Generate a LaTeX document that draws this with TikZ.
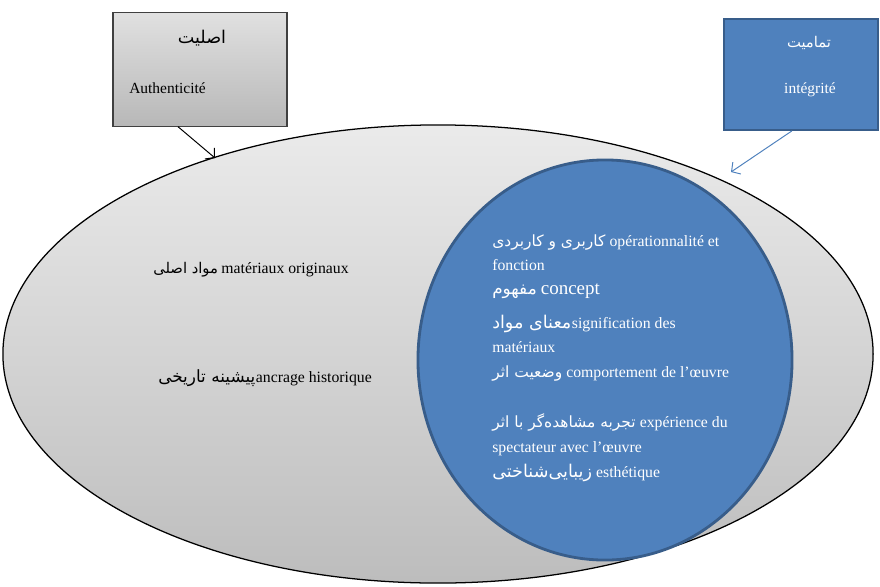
\documentclass[tikz,border=0pt]{standalone}
\usepackage{fontspec}
\setmainfont{Liberation Serif}
\newfontfamily\fafont[Script=Arabic]{DejaVu Sans}
\TeXXeTstate=1
\usetikzlibrary{shapes.geometric, arrows.meta}

\definecolor{fillblue}{RGB}{79,129,189}
\definecolor{lineblue}{RGB}{56,93,138}
\newcommand{\rtl}[1]{\beginR #1\endR}

\tikzset{
  graybox/.style={draw=black!75, line width=0.8pt, top color=black!12, bottom color=black!28},
  bluebox/.style={draw=lineblue, line width=1.2pt, fill=fillblue},
  txt/.style={anchor=base west, inner sep=0pt, font=\fontsize{11.2}{13}\selectfont},
  wtxt/.style={txt, text=white},
  fatxt/.style={anchor=base west, inner sep=0pt, font=\fafont\fontsize{11}{13}\selectfont},
  wfatxt/.style={fatxt, text=white},
  barb/.style={-{Straight Barb[length=1.6mm, width=3.6mm]}, line width=0.7pt},
}

\begin{document}
\begin{tikzpicture}[x=0.025cm, y=-0.025cm, every node/.style={inner sep=0pt}]
		\useasboundingbox (0,0) rectangle (880,586);
		% Draw the two sets
		\node[ellipse, draw=black, line width=0.9pt, top color=black!8, bottom color=black!26,
		  minimum width=21.75cm, minimum height=11.45cm] (outer) at (438,354) {};
		\node[ellipse, bluebox, line width=2pt, minimum width=9.35cm, minimum height=10cm] (inner) at (605,360) {};
		
		% Draw the boxes
		\node[graybox, minimum width=4.35cm, minimum height=2.83cm] (auth) at (200,69.5) {};
		\node[bluebox, minimum width=3.85cm, minimum height=2.78cm] (integ) at (801,74.5) {};
		
		\node[fatxt, anchor=base, font=\fafont\fontsize{12.5}{14}\selectfont] (authfa) at (202,43) {\rtl{اصلیت}};
		\node[txt, font=\fontsize{11}{13}\selectfont] (authfr) at (129,93) {Authenticité};
		\node[wfatxt, anchor=base, font=\fafont\fontsize{10.5}{12}\selectfont] (integfa) at (809,47) {\rtl{تمامیت}};
		\node[wtxt, anchor=base, font=\fontsize{11}{13}\selectfont] (integfr) at (810,93) {intégrité};
		
		% Draw the arrows
		\coordinate (authtip) at (215,158);
		\coordinate (integtip) at (731,172);
		\draw[barb, black] ([xshift=-0.55cm]auth.south) -- (authtip);
		\draw[barb, fillblue] ([xshift=-0.23cm]integ.south) -- (integtip);
		
		% Labels of the outer set
		\node[fatxt, font=\fafont\fontsize{10.5}{12}\selectfont] (origfa) at (153,273) {\rtl{مواد اصلی}};
		\node[txt, xshift=2pt] (orig) at (origfa.base east) {matériaux originaux};
		\node[fatxt, font=\fafont\fontsize{12}{14}\selectfont] (histfa) at (158,382) {\rtl{پیشینه تاریخی}};
		\node[txt] (hist) at (histfa.base east) {ancrage historique};
		
		% Labels of the inner set
		\node[wfatxt] (funcfa) at (492,246) {\rtl{کاربری و کاربردی}};
		\node[wtxt, xshift=2.5pt] (func) at (funcfa.base east) {opérationnalité et};
		\node[wtxt] (func2) at (492,270) {fonction};
		\node[wfatxt, font=\fafont\fontsize{12}{14}\selectfont] (concfa) at (492,294) {\rtl{مفهوم}};
		\node[wtxt, xshift=2.5pt, font=\fontsize{13.5}{15}\selectfont] (conc) at (concfa.base east) {concept};
		\node[wfatxt, font=\fafont\fontsize{12.5}{14}\selectfont] (signfa) at (492,328) {\rtl{معنای مواد}};
		\node[wtxt] (sign) at (signfa.base east) {signification des};
		\node[wtxt] (sign2) at (492,352) {matériaux};
		\node[wfatxt] (compfa) at (492,377) {\rtl{وضعیت اثر}};
		\node[wtxt, xshift=2.5pt] (comp) at (compfa.base east) {comportement de l’œuvre};
		\node[wfatxt] (expefa) at (492,427) {\rtl{تجربه مشاهده‌گر با اثر}};
		\node[wtxt, xshift=2.5pt] (expe) at (expefa.base east) {expérience du};
		\node[wtxt] (expe2) at (492,452) {spectateur avec l’œuvre};
		\node[wfatxt, font=\fafont\fontsize{12.5}{14}\selectfont] (esthfa) at (492,477) {\rtl{زیبایی‌شناختی}};
		\node[wtxt, xshift=2.5pt] (esth) at (esthfa.base east) {esthétique};
		
	\end{tikzpicture}
\end{document}
